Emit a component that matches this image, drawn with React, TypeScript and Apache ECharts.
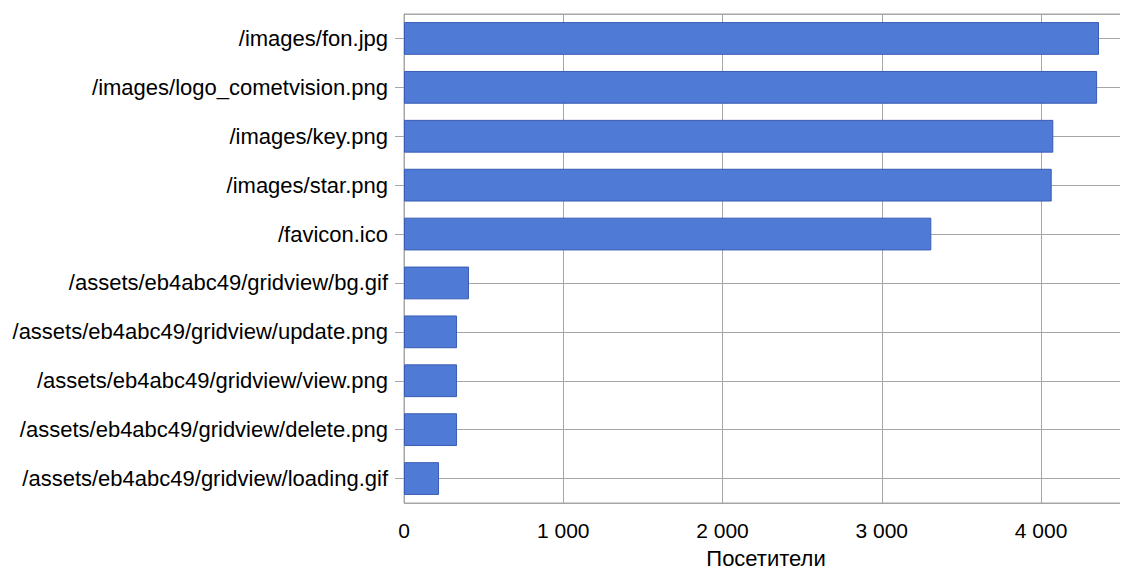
import React, { useEffect, useRef } from "react";
import * as echarts from "echarts";

const categories = [
  "/images/fon.jpg",
  "/images/logo_cometvision.png",
  "/images/key.png",
  "/images/star.png",
  "/favicon.ico",
  "/assets/eb4abc49/gridview/bg.gif",
  "/assets/eb4abc49/gridview/update.png",
  "/assets/eb4abc49/gridview/view.png",
  "/assets/eb4abc49/gridview/delete.png",
  "/assets/eb4abc49/gridview/loading.gif",
];
const visitors = [4364, 4352, 4077, 4067, 3311, 408, 333, 333, 333, 220];
const axisTitle = "Посетители";

const GRID = "#a6a6a6";
const FONT = "Liberation Sans, Arial, sans-serif";

export default function App() {
  const ref = useRef<HTMLDivElement>(null);
  useEffect(() => {
    const chart = echarts.init(ref.current!, null, { renderer: "svg" });
    chart.setOption({
      animation: false,
      grid: {
        left: 404,
        right: 0,
        top: 14,
        bottom: 64,
        show: true,
        borderColor: GRID,
        borderWidth: 1,
        backgroundColor: "transparent",
      },
      xAxis: {
        type: "value",
        min: 0,
        max: 4546,
        interval: 1000,
        name: axisTitle,
        nameLocation: "middle",
        nameGap: 44,
        nameTextStyle: { color: "#000", fontSize: 22, fontFamily: FONT },
        axisLine: { show: true, lineStyle: { color: GRID } },
        axisTick: { show: true, length: 9, lineStyle: { color: GRID } },
        splitLine: { show: true, lineStyle: { color: GRID, width: 1 } },
        axisLabel: {
          color: "#000",
          fontSize: 21,
          fontFamily: FONT,
          margin: 17,
          showMaxLabel: false,
          formatter: (v: number) =>
            String(v).replace(/\B(?=(\d{3})+(?!\d))/g, " "),
        },
      },
      yAxis: [
        {
          type: "category",
          data: categories,
          inverse: true,
          axisLine: { show: true, lineStyle: { color: GRID } },
          axisTick: { show: true, alignWithLabel: true, length: 9, lineStyle: { color: GRID } },
          splitLine: { show: false },
          axisLabel: { color: "#000", fontSize: 22, fontFamily: FONT, margin: 16 },
        },
        {
          type: "value",
          min: -0.5,
          max: 9.5,
          splitNumber: 10,
          minInterval: 1,
          maxInterval: 1,
          inverse: true,
          position: "left",
          axisLine: { show: false },
          axisTick: { show: false },
          axisLabel: { show: false },
          splitLine: { show: true, lineStyle: { color: GRID, width: 1 } },
        },
      ],
      series: [
        {
          type: "bar",
          yAxisIndex: 0,
          data: visitors,
          barCategoryGap: "33%",
          itemStyle: { color: "#4f7bd6", borderColor: "#3a5cb3", borderWidth: 1 },
        },
      ],
    });
    return () => chart.dispose();
  }, []);
  return <div ref={ref} style={{ width: 1128, height: 574, margin: -8 }} />;
}
